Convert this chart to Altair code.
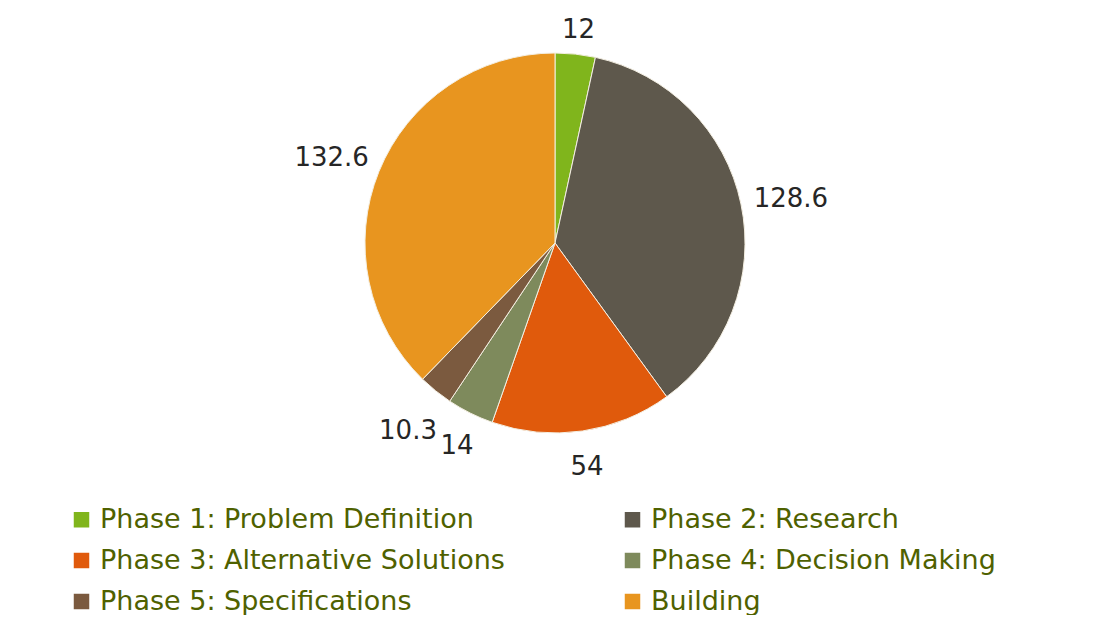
import altair as alt
import pandas as pd

categories = ["Phase 1: Problem Definition", "Phase 2: Research",
              "Phase 3: Alternative Solutions", "Phase 4: Decision Making",
              "Phase 5: Specifications", "Building"]
values = [12, 128.6, 54, 14, 10.3, 132.6]
labels = ["12", "128.6", "54", "14", "10.3", "132.6"]
colors = ["#80b51c", "#5e584c", "#e05a0c", "#7e8a5c", "#7b5a3f", "#e8951f"]

df = pd.DataFrame({"phase": categories, "value": values, "label": labels,
                   "idx": list(range(len(categories)))})

# legend is laid out column by column: reorder so it reads row by row
legend_order = [0, 2, 4, 1, 3, 5]
leg_domain = [categories[i] for i in legend_order]
leg_range = [colors[i] for i in legend_order]

FONT = "DejaVu Sans"

base = alt.Chart(df).encode(
    theta=alt.Theta("value:Q", stack=True),
    order=alt.Order("idx:Q", sort="ascending"),
)

color = alt.Color(
    "phase:N",
    scale=alt.Scale(domain=leg_domain, range=leg_range),
    sort=leg_domain,
    legend=alt.Legend(
        title=None, orient="none", legendX=60, legendY=498, columns=2,
        columnPadding=114, rowPadding=13, symbolType="square", symbolSize=240,
        symbolStrokeWidth=0, symbolOpacity=1, labelFontSize=27, labelFont=FONT,
        labelColor="#4f6100", labelOffset=5, labelLimit=700,
    ),
)

arcs = base.mark_arc(outerRadius=190, stroke="#f4efe2", strokeWidth=1).encode(color=color)

text = alt.Chart(df).transform_window(
    cum="sum(value)", sort=[alt.SortField("idx", order="ascending")],
    frame=[None, 0]
).transform_joinaggregate(
    total="sum(value)"
).transform_calculate(
    ang="2*PI*(datum.cum - datum.value/2)/datum.total",
    r="206 + 7*length(datum.label)"
).mark_text(font=FONT, fontSize=26, color="#262626", dy=6).encode(
    theta=alt.Theta("ang:Q", scale=None),
    radius=alt.Radius("r:Q", scale=None),
    text="label:N",
)

chart = (arcs + text).properties(
    width=1094, height=470, padding=0
).configure_view(stroke=None).configure(background="white")

chart.save("out.html", embed_options={"renderer": "svg", "actions": False})
